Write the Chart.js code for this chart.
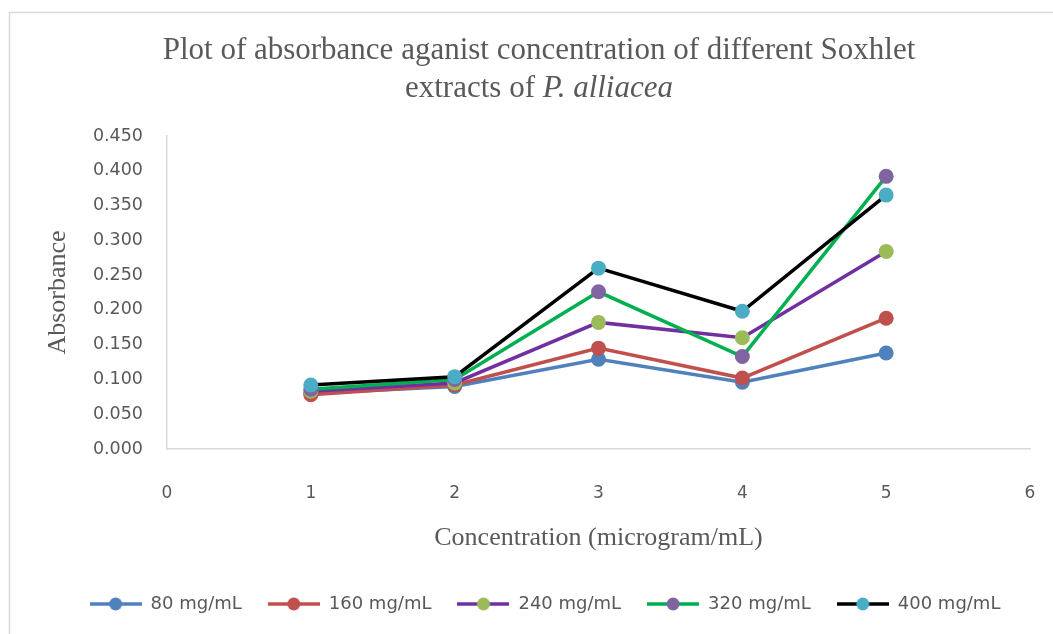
<!DOCTYPE html>
<html>
<head>
<meta charset="utf-8">
<script src="https://cdn.jsdelivr.net/npm/chart.js@4"></script>
<style>
  html, body { margin: 0; padding: 0; background: #fff; }
  #wrap { width: 1053px; height: 634px; position: relative; }
</style>
</head>
<body>
<div id="wrap"><canvas id="absChart" width="1053" height="634"></canvas></div>
<script>
// data
var concentration = [1, 2, 3, 4, 5];
var abs80 = [0.080, 0.090, 0.129, 0.096, 0.138];
var abs160 = [0.078, 0.092, 0.145, 0.102, 0.188];
var abs240 = [0.083, 0.095, 0.182, 0.160, 0.284];
var abs320 = [0.086, 0.100, 0.226, 0.133, 0.392];
var abs400 = [0.092, 0.104, 0.260, 0.198, 0.365];
var seriesNames = ['80 mg/mL', '160 mg/mL', '240 mg/mL', '320 mg/mL', '400 mg/mL'];

var lineColors = ['#4f81bd', '#c0504d', '#7030a0', '#00b050', '#000000'];
var markerColors = ['#4f81bd', '#c0504d', '#9bbb59', '#8064a2', '#4bacc6'];
var textGray = '#595959';
var serif = '"Liberation Serif", "Times New Roman", serif';

var allSeries = [abs80, abs160, abs240, abs320, abs400];

// legend swatch: line with dot
function makeSwatch(lineCol, dotCol) {
    var c = document.createElement('canvas');
    c.width = 52; c.height = 16;
    var g = c.getContext('2d');
    g.strokeStyle = lineCol;
    g.lineWidth = 3.5;
    g.beginPath(); g.moveTo(0, 8); g.lineTo(52, 8); g.stroke();
    g.fillStyle = dotCol;
    g.beginPath(); g.arc(26, 8, 6.5, 0, Math.PI * 2); g.fill();
    return c;
}
var swatches = seriesNames.map(function (n, i) { return makeSwatch(lineColors[i], markerColors[i]); });

var datasets = allSeries.map(function (vals, i) {
    return {
        label: seriesNames[i],
        data: concentration.map(function (x, j) { return { x: x, y: vals[j] }; }),
        borderColor: lineColors[i],
        backgroundColor: markerColors[i],
        pointBackgroundColor: markerColors[i],
        pointBorderColor: markerColors[i],
        pointBorderWidth: 0,
        pointRadius: 7.5,
        borderWidth: 3.5,
        tension: 0,
        order: 4 - i
    };
});

// frame + title with italic species name
var decor = {
    id: 'decor',
    afterDraw: function (chart) {
        var ctx = chart.ctx;
        ctx.save();
        ctx.strokeStyle = '#d9d9d9';
        ctx.lineWidth = 1.5;
        ctx.beginPath();
        ctx.moveTo(9.5, 634); ctx.lineTo(9.5, 12.5); ctx.lineTo(1053, 12.5);
        ctx.stroke();

        ctx.fillStyle = textGray;
        ctx.textBaseline = 'alphabetic';
        ctx.textAlign = 'left';
        var cx = 539;
        var regular = '31px ' + serif;
        var italic = 'italic 31px ' + serif;
        var line1 = 'Plot of absorbance aganist concentration of different Soxhlet';
        ctx.font = regular;
        var w1 = ctx.measureText(line1).width;
        ctx.fillText(line1, cx - w1 / 2, 59);
        var partA = 'extracts of ';
        var partB = 'P. alliacea';
        var wa = ctx.measureText(partA).width;
        ctx.font = italic;
        var wb = ctx.measureText(partB).width;
        var x0 = cx - (wa + wb) / 2;
        ctx.font = regular;
        ctx.fillText(partA, x0, 97);
        ctx.font = italic;
        ctx.fillText(partB, x0 + wa, 97);
        ctx.restore();
    }
};

var ctx1 = document.getElementById('absChart').getContext('2d');
var absChart = new Chart(ctx1, {
    type: 'line',
    data: { datasets: datasets },
    plugins: [decor],
    options: {
        responsive: false,
        animation: false,
        layout: { padding: { top: 136, left: 60, right: 23, bottom: 11 } },
        scales: {
            x: {
                type: 'linear',
                min: 0,
                max: 6,
                grid: {
                    display: true,
                    drawOnChartArea: false,
                    drawTicks: true,
                    tickLength: 31,
                    color: 'rgba(0,0,0,0)'
                },
                border: { display: true, color: '#d9d9d9', width: 1.5 },
                ticks: {
                    stepSize: 1,
                    padding: 3,
                    color: textGray,
                    font: { family: '"DejaVu Sans", sans-serif', size: 17 }
                },
                title: {
                    display: true,
                    text: 'Concentration (microgram/mL)',
                    color: textGray,
                    font: { family: serif, size: 26 },
                    padding: { top: 0, bottom: 15 }
                },
                afterFit: function (scale) { scale.height = 120; }
            },
            y: {
                min: 0,
                max: 0.45,
                grid: { display: false, drawTicks: false },
                border: { display: true, color: '#d9d9d9', width: 1.5 },
                ticks: {
                    stepSize: 0.05,
                    padding: 24,
                    color: textGray,
                    font: { family: '"DejaVu Sans", sans-serif', size: 17.5 },
                    callback: function (v) { return Number(v).toFixed(3); }
                },
                title: {
                    display: true,
                    text: 'Absorbance',
                    color: textGray,
                    font: { family: serif, size: 26 },
                    padding: { top: -17, bottom: 0 }
                },
                afterFit: function (scale) { scale.width = 107; }
            }
        },
        plugins: {
            legend: {
                display: true,
                position: 'bottom',
                labels: {
                    usePointStyle: true,
                    pointStyleWidth: 52,
                    padding: 26,
                    color: textGray,
                    font: { family: '"DejaVu Sans", sans-serif', size: 18 },
                    generateLabels: function (chart) {
                        return chart.data.datasets.map(function (ds, i) {
                            return {
                                text: ds.label,
                                pointStyle: swatches[i],
                                fontColor: textGray,
                                fillStyle: markerColors[i],
                                strokeStyle: lineColors[i],
                                lineWidth: 0,
                                hidden: false,
                                datasetIndex: i
                            };
                        });
                    }
                }
            },
            tooltip: { enabled: false }
        }
    }
});
</script>
</body>
</html>
